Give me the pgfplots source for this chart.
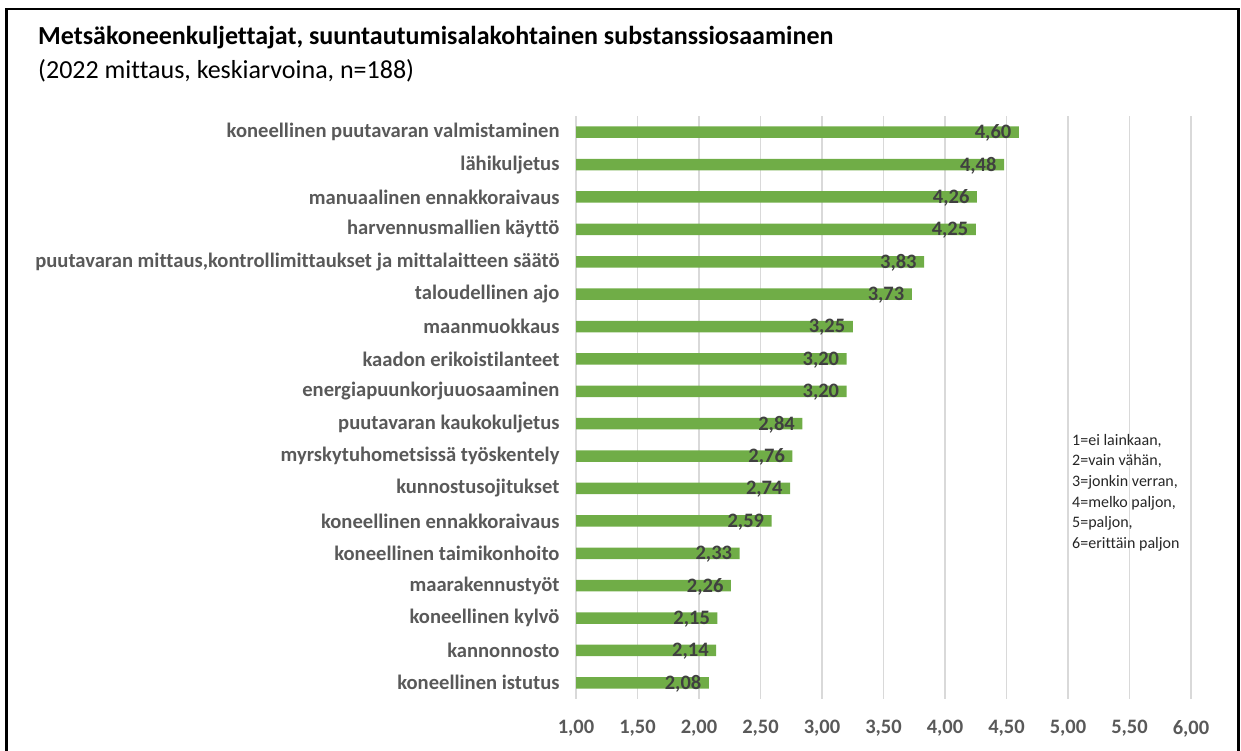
\documentclass[border=0pt]{standalone}
\usepackage{fontspec}
\setmainfont{Carlito}[Ligatures=NoCommon]
\usepackage{pgfplots}
\pgfplotsset{compat=1.18}
\definecolor{bargreen}{HTML}{70AD47}
\definecolor{labgrey}{HTML}{595959}
\definecolor{valgrey}{HTML}{404040}
\definecolor{gridgrey}{HTML}{D9D9D9}
\definecolor{legtext}{HTML}{262626}
\begin{document}
\begin{tikzpicture}
\path[use as bounding box] (0,0) rectangle (1241pt,-751pt);
\draw[line width=2.5pt] (6.5pt,-751pt) -- (6.5pt,-9pt) -- (1238.5pt,-9pt) -- (1238.5pt,-751pt);
\node[anchor=base west, inner sep=0pt, font=\fontsize{26}{30}\selectfont\bfseries] at (38pt,-45pt) {Metsäkoneenkuljettajat, suuntautumisalakohtainen substanssiosaaminen};
\node[anchor=base west, inner sep=0pt, font=\fontsize{26}{30}\selectfont] at (38pt,-79pt) {(2022 mittaus, keskiarvoina, n=188)};
\begin{axis}[
  at={(576pt,-699pt)}, anchor=south west,
  scale only axis, width=615pt, height=583pt,
  xmin=1, xmax=6, ymin=-0.5, ymax=17.5,
  y dir=reverse,
  axis line style={draw=none},
  major tick length=0pt,
  xtick={1,1.5,2,2.5,3,3.5,4,4.5,5,5.5,6},
  xmajorgrids,
  grid style={gridgrey, line width=1.2pt},
  ytick={0,1,...,17},
  yticklabels={
    koneellinen puutavaran valmistaminen,
    lähikuljetus,
    manuaalinen ennakkoraivaus,
    harvennusmallien käyttö,
    {puutavaran mittaus,kontrollimittaukset ja mittalaitteen säätö},
    taloudellinen ajo,
    maanmuokkaus,
    kaadon erikoistilanteet,
    energiapuunkorjuuosaaminen,
    puutavaran kaukokuljetus,
    myrskytuhometsissä työskentely,
    kunnostusojitukset,
    koneellinen ennakkoraivaus,
    koneellinen taimikonhoito,
    maarakennustyöt,
    koneellinen kylvö,
    kannonnosto,
    koneellinen istutus},
  yticklabel style={font=\fontsize{20.6}{24}\selectfont\bfseries, text=labgrey, xshift=-13pt},
  xticklabel style={font=\fontsize{20.5}{24}\selectfont\bfseries, text=labgrey, yshift=-18pt},
  /pgf/number format/.cd, fixed, fixed zerofill, precision=2, use comma, assume math mode=true,
  /pgfplots/.cd,
  xbar, bar width=11.5pt,
]
\addplot[fill=bargreen, draw=none, point meta=x, nodes near coords,
  every node near coord/.append style={anchor=east, xshift=-4pt, yshift=-1pt, font=\fontsize{20.5}{24}\selectfont\bfseries, text=valgrey}]
  coordinates {
  (4.60,0) (4.48,1) (4.26,2) (4.25,3) (3.83,4) (3.73,5) (3.25,6) (3.20,7) (3.20,8)
  (2.84,9) (2.76,10) (2.74,11) (2.59,12) (2.33,13) (2.26,14) (2.15,15) (2.14,16) (2.08,17)};
\end{axis}
\node[anchor=north west, align=left, inner sep=0pt, text=legtext, font=\fontsize{16}{20.6}\selectfont] at (1072pt,-434pt) {1=ei lainkaan,\\2=vain vähän,\\3=jonkin verran,\\4=melko paljon,\\5=paljon,\\6=erittäin paljon};
\end{tikzpicture}
\end{document}
